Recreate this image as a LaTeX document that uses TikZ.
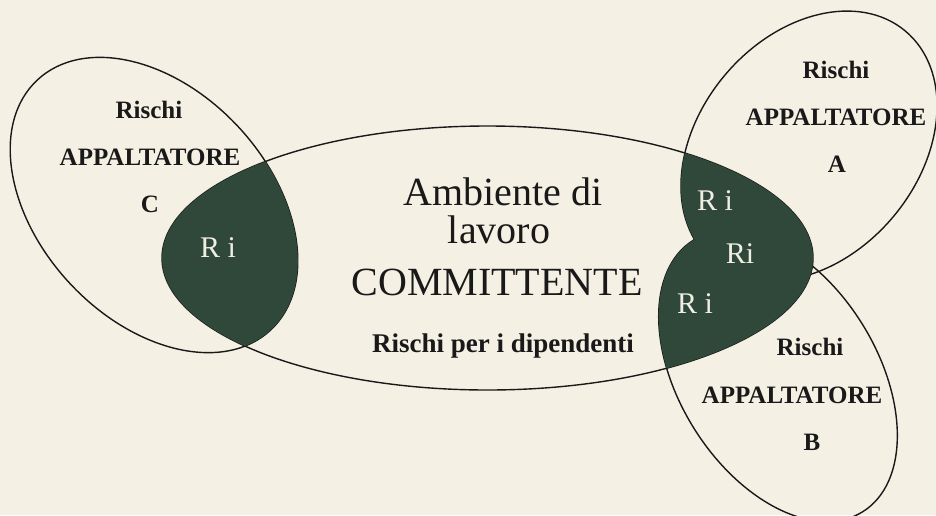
\documentclass[tikz,border=0pt]{standalone}
\usepackage{fontspec}
\setmainfont{Liberation Serif}
\definecolor{bgc}{RGB}{245,240,228}
\definecolor{darkfill}{RGB}{48,72,58}
\definecolor{ritext}{RGB}{240,238,226}
\definecolor{inkc}{RGB}{25,25,25}
\tikzset{
  outline/.style={draw=inkc, line width=1.4pt},
  lab/.style={font=\fontsize{25}{27}\selectfont\bfseries, text=inkc, anchor=base, inner sep=0pt},
  biglab/.style={font=\fontsize{40}{42}\selectfont, text=inkc, anchor=base, inner sep=0pt},
  midlab/.style={font=\fontsize{27}{29}\selectfont\bfseries, text=inkc, anchor=base, inner sep=0pt},
  rilab/.style={font=\fontsize{30}{32}\selectfont, text=ritext, anchor=base, inner sep=0pt}
}
\begin{document}
\begin{tikzpicture}[x=1pt,y=-1pt]
\useasboundingbox (0,0) rectangle (936,515);
\fill[bgc] (0,0) rectangle (936,515);
% outlines
\draw[outline] (487.5,258) ellipse [x radius=325.5pt, y radius=132pt];
\draw[outline, rotate around={-47:(154,205)}] (154,205) ellipse [x radius=171pt, y radius=115pt];
\draw[outline, rotate around={50:(809,146)}] (809,146) ellipse [x radius=150pt, y radius=110pt];
\draw[outline, rotate around={-58:(778,376)}] (778,376) ellipse [x radius=160pt, y radius=99pt];
% dark intersections
\begin{scope}
  \clip (487.5,258) ellipse [x radius=325.5pt, y radius=132pt];
  \fill[darkfill, rotate around={-47:(154,205)}] (154,205) ellipse [x radius=171pt, y radius=115pt];
  \fill[darkfill, rotate around={50:(809,146)}] (809,146) ellipse [x radius=150pt, y radius=110pt];
  \fill[darkfill, rotate around={-58:(778,376)}] (778,376) ellipse [x radius=160pt, y radius=99pt];
\end{scope}
% central texts
\node[biglab] (amb) at (503,205) {Ambiente di};
\node[biglab] (lav) at (499,243) {lavoro};
\node[biglab] (com) at (497,295) {COMMITTENTE};
\node[midlab] (dip) at (503,352) {Rischi per i dipendenti};
% C
\node[lab] (cr) at (149,118) {Rischi};
\node[lab] (ca) at (150,165) {APPALTATORE};
\node[lab] (cc) at (150,212) {C};
% A
\node[lab] (ar) at (836,78) {Rischi};
\node[lab] (aa) at (836,125) {APPALTATORE};
\node[lab] (al) at (837,172) {A};
% B
\node[lab] (br) at (810,355) {Rischi};
\node[lab] (ba) at (792,403) {APPALTATORE};
\node[lab] (bl) at (812,450) {B};
% Ri
\node[rilab] (ric) at (218,257) {R i};
\node[rilab] (ria) at (715,210) {R i};
\node[rilab] (rim) at (740,263) {Ri};
\node[rilab] (rib) at (695,313) {R i};
\end{tikzpicture}
\end{document}
